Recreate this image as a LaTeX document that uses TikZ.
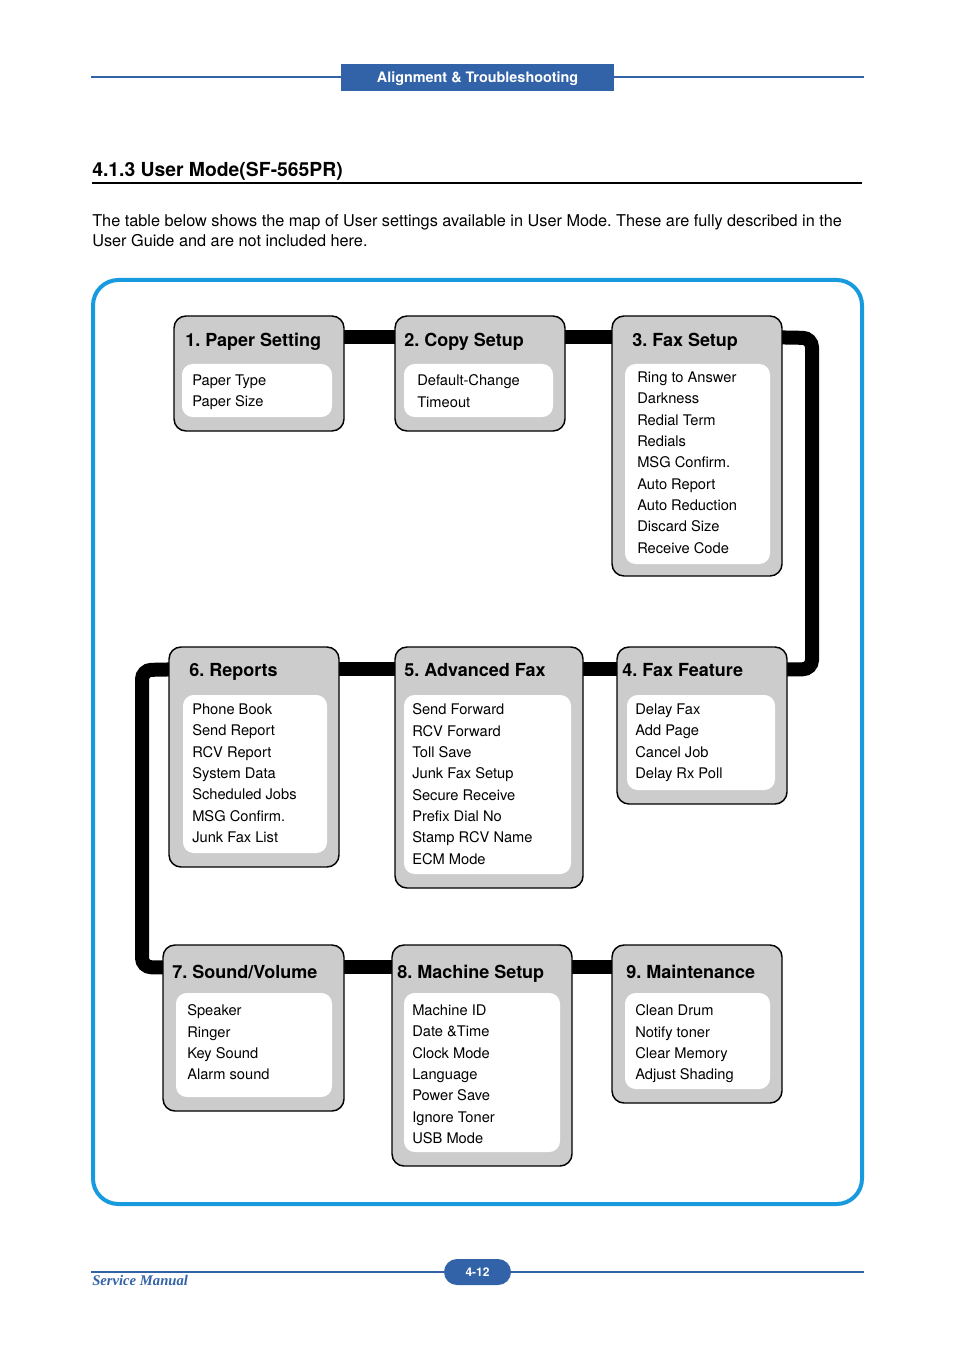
\documentclass[tikz,border=0pt]{standalone}
\usepackage{fontspec}
\setmainfont{TeX Gyre Heros}
\newfontfamily\manualfont{Liberation Serif}
\usetikzlibrary{fit,backgrounds}
\definecolor{hdrblue}{RGB}{50,98,168}
\definecolor{frameblue}{RGB}{24,155,222}
\definecolor{panelgray}{RGB}{204,204,204}
\frenchspacing

\begin{document}
\begin{tikzpicture}[x=0.75pt, y=-0.75pt,
    panel/.style={draw, line width=1.1pt, fill=panelgray, rounded corners=9pt, inner sep=0pt},
    well/.style={fill=white, rounded corners=8pt, inner sep=0pt},
    head/.style={anchor=base west, inner sep=0pt, font=\fontsize{13.5}{16}\selectfont\bfseries},
    items/.style={anchor=north west, inner sep=0pt, align=left, font=\fontsize{11}{16}\selectfont},
    link/.style={line width=10.5pt, rounded corners=7pt},
    rule/.style={hdrblue, line width=0.8pt}
]
\useasboundingbox (0,0) rectangle (954,1351);

\draw[rule] (91,77) -- (864,77);
\node[fill=hdrblue, inner sep=0pt, fit={(341,64) (614,91)}] (banner) {};
\node[text=white, font=\fontsize{10.8}{12}\selectfont\bfseries] (bannerText) at ([shift={(0,1.5)}]banner) {Alignment \& Troubleshooting};

\node[anchor=base west, inner sep=0pt, font=\fontsize{14.5}{17}\selectfont\bfseries] (secTitle) at (92,177) {4.1.3 User Mode(SF-565PR)};
\draw[line width=1.5pt] (92,183) -- (862,183);
\node[anchor=north west, inner sep=0pt, align=left, font=\fontsize{12.2}{15}\selectfont] (intro) at (92,214)
    {The table below shows the map of User settings available in User Mode. These are fully described in the\\User Guide and are not included here.};

\draw[frameblue, line width=3pt, rounded corners=19pt] (93,280) rectangle (862,1204);

\node[panel, fit={(174,316) (344,431)}] (paper) {};
\node[well, fit={(182,364) (332,417)}] (paperWell) {};
\node[head] (paperHead) at (185,346.5) {1. Paper Setting};
\node[items] (paperList) at (192,374.5) {Paper Type\\Paper Size};

\node[panel, fit={(395,316) (565,431)}] (copy) {};
\node[well, fit={(404,364) (553,417)}] (copyWell) {};
\node[head] (copyHead) at (404,346.5) {2. Copy Setup};
\node[items] (copyList) at (417,374.5) {Default-Change\\Timeout};

\node[panel, fit={(612,316) (782,576)}] (fax) {};
\node[well, fit={(625,364) (770,564)}] (faxWell) {};
\node[head] (faxHead) at (632,346.5) {3. Fax Setup};
\node[items] (faxList) at (637,371.5) {Ring to Answer\\Darkness\\Redial Term\\Redials\\MSG Confirm.\\Auto Report\\Auto Reduction\\Discard Size\\Receive Code};

\node[panel, fit={(617,647) (787,804)}] (feature) {};
\node[well, fit={(627,695) (775,790)}] (featureWell) {};
\node[head] (featureHead) at (622,676.5) {4. Fax Feature};
\node[items] (featureList) at (635,703.5) {Delay Fax\\Add Page\\Cancel Job\\Delay Rx Poll};

\node[panel, fit={(395,647) (583,888)}] (advanced) {};
\node[well, fit={(404,695) (571,874)}] (advancedWell) {};
\node[head] (advancedHead) at (404,676.5) {5. Advanced Fax};
\node[items] (advancedList) at (412,703.5) {Send Forward\\RCV Forward\\Toll Save\\Junk Fax Setup\\Secure Receive\\Prefix Dial No\\Stamp RCV Name\\ECM Mode};

\node[panel, fit={(169,647) (339,867)}] (reports) {};
\node[well, fit={(183,695) (327,853)}] (reportsWell) {};
\node[head] (reportsHead) at (189,676.5) {6. Reports};
\node[items] (reportsList) at (192,703.5) {Phone Book\\Send Report\\RCV Report\\System Data\\Scheduled Jobs\\MSG Confirm.\\Junk Fax List};

\node[panel, fit={(163,945) (344,1111)}] (sound) {};
\node[well, fit={(176,993) (332,1097)}] (soundWell) {};
\node[head] (soundHead) at (172,978.5) {7. Sound/Volume};
\node[items] (soundList) at (187,1004.5) {Speaker\\Ringer\\Key Sound\\Alarm sound};

\node[panel, fit={(392,945) (572,1166)}] (machine) {};
\node[well, fit={(404,993) (560,1152)}] (machineWell) {};
\node[head] (machineHead) at (397,978.5) {8. Machine Setup};
\node[items] (machineList) at (412,1004.5) {Machine ID\\Date \&Time\\Clock Mode\\Language\\Power Save\\Ignore Toner\\USB Mode};

\node[panel, fit={(612,945) (782,1103)}] (maint) {};
\node[well, fit={(625,993) (770,1089)}] (maintWell) {};
\node[head] (maintHead) at (626,978.5) {9. Maintenance};
\node[items] (maintList) at (635,1004.5) {Clean Drum\\Notify toner\\Clear Memory\\Adjust Shading};

\coordinate (bendR) at (812,338);
\coordinate (bendL) at (142,670);

\begin{scope}[on background layer]
\fill[white] (0,0) rectangle (954,1351);
\draw[link] ([shift={(-10,22)}]paper.north east) -- ([shift={(10,22)}]copy.north west);
\draw[link] ([shift={(-10,22)}]copy.north east) -- ([shift={(10,22)}]fax.north west);
\draw[link] ([shift={(-10,22)}]fax.north east) -- (bendR) |- ([shift={(-10,23)}]feature.north east);
\draw[link] ([shift={(10,23)}]feature.north west) -- ([shift={(-10,23)}]advanced.north east);
\draw[link] ([shift={(10,23)}]advanced.north west) -- ([shift={(-10,23)}]reports.north east);
\draw[link] ([shift={(10,23)}]reports.north west) -- (bendL) |- ([shift={(10,23)}]sound.north west);
\draw[link] ([shift={(-10,23)}]sound.north east) -- ([shift={(10,23)}]machine.north west);
\draw[link] ([shift={(-10,23)}]machine.north east) -- ([shift={(10,23)}]maint.north west);
\end{scope}

\draw[rule] (91,1272) -- (864,1272);
\node[anchor=base west, inner sep=0pt, text=hdrblue, font=\manualfont\fontsize{11}{12}\selectfont\bfseries\itshape] (manual) at (92,1285) {Service Manual};
\node[fill=hdrblue, rounded corners=9.75pt, inner sep=0pt, fit={(444,1259) (511,1285)}] (pageTag) {};
\node[text=white, font=\fontsize{9}{10}\selectfont\bfseries] (pageNum) at (pageTag) {4-12};
\end{tikzpicture}
\end{document}
